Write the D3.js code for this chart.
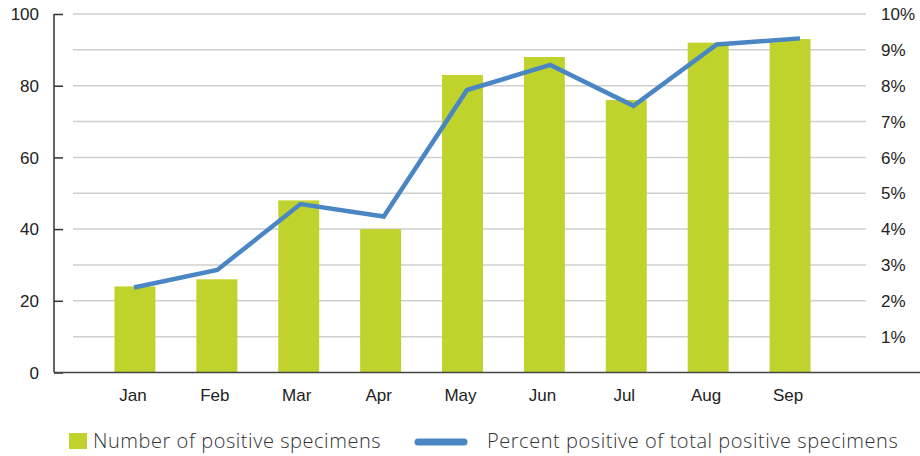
<!DOCTYPE html>
<html>
<head>
<meta charset="utf-8">
<script src="https://cdn.jsdelivr.net/npm/d3@7"></script>
<style>
  html, body { margin: 0; padding: 0; background: #fff; }
  svg { display: block; }
</style>
</head>
<body>
<svg id="chart" width="920" height="456"></svg>
<script>
const months = ["Jan", "Feb", "Mar", "Apr", "May", "Jun", "Jul", "Aug", "Sep"];
const positiveCounts = [24, 26, 48, 40, 83, 88, 76, 92, 93];
const percentPositive = [2.37, 2.86, 4.70, 4.35, 7.88, 8.58, 7.44, 9.15, 9.32];
const leftTicks = [0, 20, 40, 60, 80, 100];
const rightTicks = [1, 2, 3, 4, 5, 6, 7, 8, 9, 10];
const gridValues = [10, 20, 30, 40, 50, 60, 70, 80, 90, 100];
const legendLabels = ["Number of positive specimens", "Percent positive of total positive specimens"];

const barColor = "#c0d22c";
const lineColor = "#4a86c4";
const textColor = "#222";
const font = "'Liberation Sans', Arial, sans-serif";
const legendFont = "'Open Sans', sans-serif";

const svg = d3.select("#chart");

const yLeft = d3.scaleLinear().domain([0, 100]).range([372.5, 14]);
const yRight = d3.scaleLinear().domain([0, 10]).range([372.5, 14]);
const x = d3.scaleBand().domain(months).range([94, 831]).paddingInner(0.5).paddingOuter(0.25);
const xLine = d3.scalePoint().domain(months).range([134, 800]);

// gridlines
svg.append("g").selectAll("line").data(gridValues).join("line")
  .attr("x1", 73).attr("x2", 866)
  .attr("y1", d => yLeft(d)).attr("y2", d => yLeft(d))
  .attr("stroke", "#cfcfcf").attr("stroke-width", 1.5);

// bars
svg.append("g").selectAll("rect").data(months).join("rect")
  .attr("x", d => x(d))
  .attr("width", x.bandwidth())
  .attr("y", (d, i) => yLeft(positiveCounts[i]))
  .attr("height", (d, i) => yLeft(0) - yLeft(positiveCounts[i]))
  .attr("fill", barColor);

// line
const line = d3.line()
  .x((d, i) => xLine(months[i]))
  .y(d => yRight(d));
svg.append("path").datum(percentPositive)
  .attr("d", line)
  .attr("fill", "none")
  .attr("stroke", lineColor)
  .attr("stroke-width", 4.5)
  .attr("stroke-linejoin", "miter");

// left axis
const leftAxis = d3.axisRight(yLeft).tickValues(leftTicks).tickSize(9).tickFormat("");
const gl = svg.append("g").attr("transform", "translate(54,0)").call(leftAxis);
gl.select(".domain").attr("stroke", "#333").attr("stroke-width", 1.5).attr("d", `M0,${yLeft(100)}V${yLeft(0)}`);
gl.selectAll(".tick line").attr("stroke", "#333").attr("stroke-width", 1.5);
svg.append("g").selectAll("text").data(leftTicks).join("text")
  .attr("x", 39).attr("y", d => yLeft(d)).attr("dy", "0.36em")
  .attr("text-anchor", "end")
  .attr("font-family", font).attr("font-size", 17).attr("fill", textColor)
  .text(d => d);

// right labels
svg.append("g").selectAll("text").data(rightTicks).join("text")
  .attr("x", 881).attr("y", d => yRight(d)).attr("dy", "0.36em")
  .attr("text-anchor", "start")
  .attr("font-family", font).attr("font-size", 17).attr("fill", textColor)
  .text(d => d + "%");

// bottom axis
svg.append("line").attr("x1", 54).attr("x2", 920).attr("y1", yLeft(0)).attr("y2", yLeft(0))
  .attr("stroke", "#444").attr("stroke-width", 1.5);
svg.append("g").selectAll("text").data(months).join("text")
  .attr("x", d => x(d) + x.bandwidth() / 2 - 2).attr("y", 401)
  .attr("text-anchor", "middle")
  .attr("font-family", font).attr("font-size", 17).attr("fill", textColor)
  .text(d => d);

// legend
const lg = svg.append("g");
lg.append("rect").attr("x", 69).attr("y", 433).attr("width", 18).attr("height", 16).attr("fill", barColor);
lg.append("text").attr("x", 93).attr("y", 448)
  .attr("font-family", legendFont).attr("font-weight", 300).attr("font-size", 20)
  .attr("letter-spacing", 0.55).attr("fill", "#333")
  .text(legendLabels[0]);
lg.append("line").attr("x1", 418).attr("x2", 464).attr("y1", 442).attr("y2", 442)
  .attr("stroke", lineColor).attr("stroke-width", 7).attr("stroke-linecap", "round");
lg.append("text").attr("x", 487).attr("y", 448)
  .attr("font-family", legendFont).attr("font-weight", 300).attr("font-size", 20)
  .attr("letter-spacing", 0.55).attr("fill", "#333")
  .text(legendLabels[1]);
</script>
</body>
</html>
